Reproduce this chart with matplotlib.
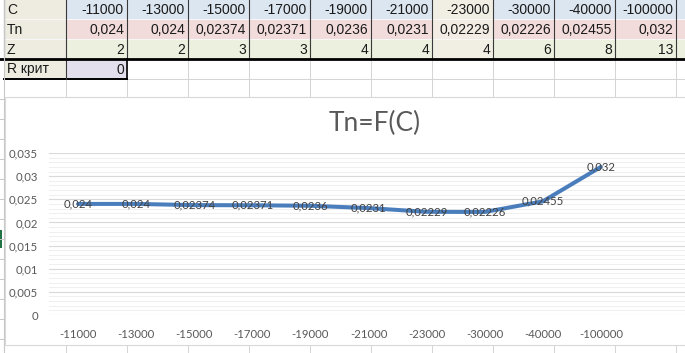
import matplotlib.pyplot as plt
from matplotlib.patches import Rectangle
from matplotlib.ticker import MultipleLocator, FuncFormatter

# data from the sheet
c_values = [-11000, -13000, -15000, -17000, -19000, -21000, -23000, -30000, -40000, -100000]
tn_values = [0.024, 0.024, 0.02374, 0.02371, 0.0236, 0.0231, 0.02229, 0.02226, 0.02455, 0.032]
z_values = [2, 2, 3, 3, 4, 4, 4, 6, 8, 13]
row_labels = ["C", "Tn", "Z", "R крит"]
r_krit = 0

W, H = 685, 353
cell_font = ["Liberation Sans", "DejaVu Sans"]
chart_font = ["Lato", "DejaVu Sans"]
cell_size = 10


def comma(v):
    return str(v).replace(".", ",")


fig = plt.figure(figsize=(W / 100, H / 100), dpi=100)

# background axes in pixel coordinates for the spreadsheet cells
bg = fig.add_axes([0, 0, 1, 1])
bg.set_xlim(0, W)
bg.set_ylim(H, 0)
bg.axis("off")

col_edges = [4, 66] + [66 + 61 * (i + 1) for i in range(len(c_values))] + [W + 2]
row_edges = [-2, 19, 39, 59, 79, 97]

blue, pink, green, beige, lav = "#dce6f1", "#f2dcdb", "#ebf1de", "#eeece1", "#e4dfec"
row_fill = [blue, pink, green]
light = "#d4d4d4"

# rows 1-3
for r in range(3):
    y0, y1 = row_edges[r], row_edges[r + 1]
    bg.add_patch(Rectangle((col_edges[0], y0), col_edges[1] - col_edges[0], y1 - y0, fc=beige, ec="none"))
    bg.text(col_edges[0] + 3, (y0 + y1) / 2 + 1, row_labels[r], ha="left", va="center",
            fontsize=cell_size, family=cell_font, color="#1a1a1a")
    for i in range(len(c_values) + 1):
        x0, x1 = col_edges[i + 1], col_edges[i + 2]
        fc = row_fill[r]
        if i == 6:
            fc = "#f1efe4" if r != 1 else "#f3ece4"
        bg.add_patch(Rectangle((x0, y0), x1 - x0, y1 - y0, fc=fc, ec="none"))
    bg.plot([col_edges[0], W], [y1, y1], color="#f8f8f8", lw=0.7)

for x in col_edges[:-1]:
    bg.plot([x, x], [0, 59], color="#3a3a3a", lw=0.8)

for i in range(len(c_values)):
    xr = col_edges[i + 2] - 3
    bg.text(xr, 10, str(c_values[i]), ha="right", va="center", fontsize=cell_size, family=cell_font, color="#1a1a1a")
    bg.text(xr, 30, comma(tn_values[i]), ha="right", va="center", fontsize=cell_size, family=cell_font, color="#1a1a1a")
    bg.text(xr, 49.5, str(z_values[i]), ha="right", va="center", fontsize=cell_size, family=cell_font, color="#1a1a1a")

# rows 4-5 gridlines
for x in col_edges[1:-1]:
    bg.plot([x, x], [59, 97], color=light, lw=0.7)
bg.plot([col_edges[0], W], [79, 79], color=light, lw=0.7)
bg.add_patch(Rectangle((col_edges[0], 59), col_edges[1] - col_edges[0], 20, fc=beige, ec="none"))
bg.add_patch(Rectangle((col_edges[1], 59), col_edges[2] - col_edges[1], 20, fc=lav, ec="none"))
bg.text(col_edges[0] + 3, 69.5, row_labels[3], ha="left", va="center", fontsize=cell_size, family=cell_font, color="#1a1a1a")
bg.text(col_edges[2] - 3, 69.5, str(r_krit), ha="right", va="center", fontsize=cell_size, family=cell_font, color="#1a1a1a")
bg.plot([col_edges[0], col_edges[2]], [79, 79], color="black", lw=1.4)
bg.plot([col_edges[2], col_edges[2]], [59, 79], color="black", lw=1.2)
bg.plot([col_edges[1], col_edges[1]], [59, 79], color="#3a3a3a", lw=0.8)
bg.plot([0, W], [59, 59], color="black", lw=2.0)

# left strip and below chart
bg.plot([4, 4], [0, H], color="#c8c8c8", lw=0.8)
for y in range(99, 353, 20):
    bg.plot([0, 4], [y, y], color="#c8c8c8", lw=0.7)
bg.add_patch(Rectangle((0, 230), 2.5, 18, fc="#217346", ec="none"))
for x in col_edges[1:-1]:
    bg.plot([x, x], [345, H], color=light, lw=0.7)

# chart area
bg.add_patch(Rectangle((5, 97), W - 4, 248, fc="white", ec="#d9d9d9", lw=0.8, zorder=3))

# chart axes
ax = fig.add_axes([49 / W, (H - 315) / H, 639 / W, 162 / H])
ax.set_facecolor("none")
x = list(range(len(c_values)))
ax.plot(x, tn_values, color="#4a7dbb", lw=2.9, solid_joinstyle="round", solid_capstyle="round", zorder=3)
for xi, v in zip(x, tn_values):
    ax.text(xi, v, comma(v), ha="center", va="center", fontsize=8.2, family=chart_font, color="#404040", zorder=4)

ax.set_xlim(-0.5, 10.5)
ax.set_ylim(0, 0.035)
ax.yaxis.set_major_locator(MultipleLocator(0.005))
ax.yaxis.set_minor_locator(MultipleLocator(0.001))
ax.yaxis.set_major_formatter(FuncFormatter(lambda v, p: "0" if abs(v) < 1e-12 else comma(round(v, 3))))
ax.grid(True, which="major", axis="y", color="#d9d9d9", lw=0.8)
ax.grid(True, which="minor", axis="y", color="#efefef", lw=0.7)
ax.set_axisbelow(True)
ax.set_xticks(x)
ax.set_xticklabels([str(c) for c in c_values])
for s in ax.spines.values():
    s.set_visible(False)
ax.tick_params(axis="both", which="both", length=0, labelsize=8.2, labelcolor="#595959")
ax.tick_params(axis="x", pad=10)
ax.tick_params(axis="y", pad=8)
for lab in ax.get_xticklabels() + ax.get_yticklabels():
    lab.set_family(chart_font)

fig.text(375 / W, 1 - 123 / H, "Tn=F(C)", ha="center", va="center", fontsize=19,
         family=chart_font, color="#595959")

fig.savefig("out.png", dpi=100)
